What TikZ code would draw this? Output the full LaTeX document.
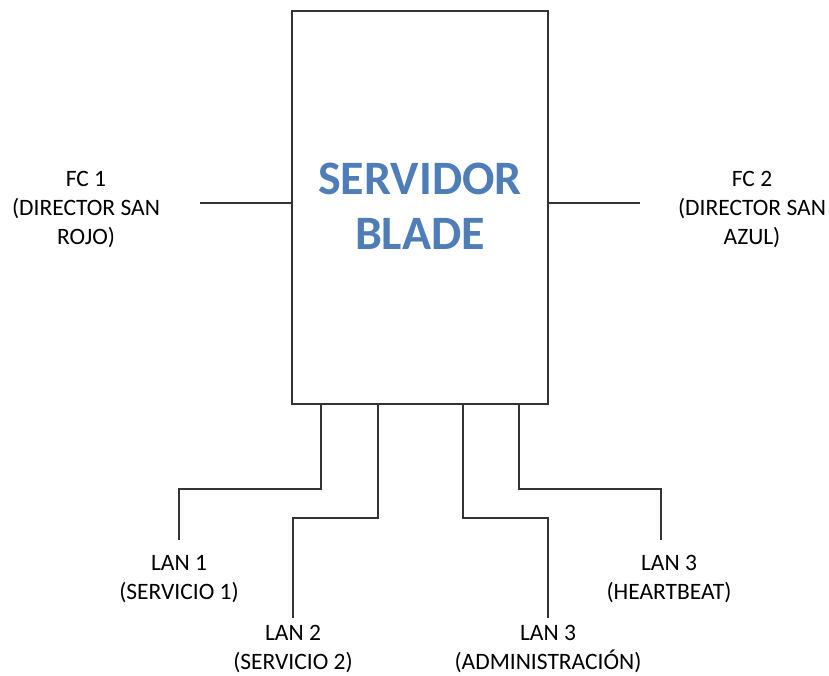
\documentclass[tikz,border=0pt]{standalone}
\usepackage{fontspec}
\setmainfont{Carlito}
\usetikzlibrary{positioning}
\definecolor{titleblue}{HTML}{4F7DB8}
\tikzset{
  wire/.style={line width=1.3pt,draw=black!80},
  portlabel/.style={align=center,font=\fontsize{23.5}{29}\selectfont,inner sep=0pt},
}
\begin{document}
\begin{tikzpicture}[x=1pt,y=-1pt]
\useasboundingbox (0,0) rectangle (829,675);
% blade chassis
\node[draw=black!80,line width=1.3pt,minimum width=256pt,minimum height=393pt,inner sep=0pt] (blade) at (420,207.5) {};
\node[align=center,text=titleblue,font=\fontsize{48}{55}\selectfont\bfseries] (title) at (420,206) {SERVIDOR\\BLADE};
% fibre channel
\node[portlabel] (fc1) at (86,209) {FC 1\\(DIRECTOR SAN\\ROJO)};
\node[portlabel] (fc2) at (752,209) {FC 2\\(DIRECTOR SAN\\AZUL)};
\coordinate (fc1end) at (200,203);
\coordinate (fc2end) at (640,203);
\draw[wire] (fc1end) -- (fc1end -| blade.west);
\draw[wire] (fc2end) -- (fc2end -| blade.east);
% lan
\node[portlabel] (lan1) at (179,579) {LAN 1\\(SERVICIO 1)};
\node[portlabel] (lan2) at (293,649) {LAN 2\\(SERVICIO 2)};
\node[portlabel] (lan3a) at (548,649) {LAN 3\\(ADMINISTRACIÓN)};
\node[portlabel] (lan3h) at (669,579) {LAN 3\\(HEARTBEAT)};
\coordinate (p1) at (321,404);
\coordinate (p2) at (378,404);
\coordinate (p3) at (463,404);
\coordinate (p4) at (519,404);
\draw[wire] (p1) |- (179,489) -- (179,540);
\draw[wire] (p2) |- (293,518) -- (293,618);
\draw[wire] (p3) |- (548,518) -- (548,618);
\draw[wire] (p4) |- (661,489) -- (661,540);
\end{tikzpicture}
\end{document}
